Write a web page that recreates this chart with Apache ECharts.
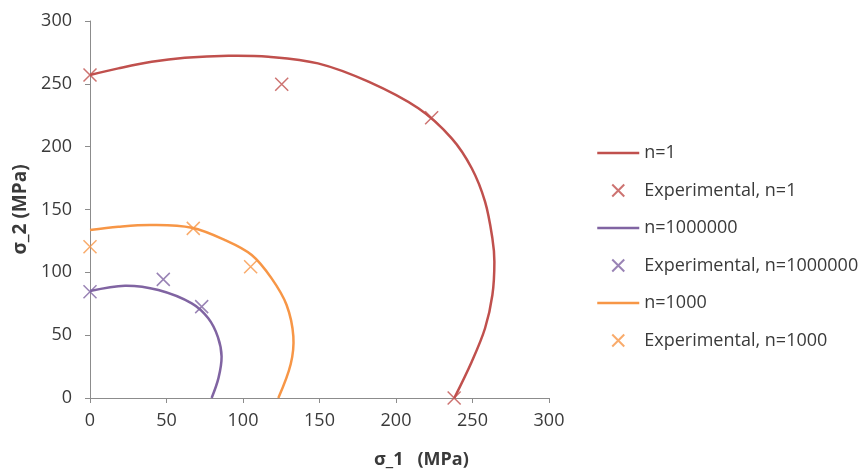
<!DOCTYPE html>
<html>
<head>
<meta charset="utf-8">
<script src="https://cdn.jsdelivr.net/npm/echarts@6/dist/echarts.min.js"></script>
<style>html,body{margin:0;padding:0;background:#fff;}#c{width:860px;height:476px;}</style>
</head>
<body>
<div id="c"></div>
<script>
// Values
var xTicks = [0, 50, 100, 150, 200, 250, 300];
var yTicks = [0, 50, 100, 150, 200, 250, 300];

var curveN1 = [[0,257],[18.5,262.3],[40.3,267.6],[62,270.8],[90.4,272.4],[116.6,271.6],[149,266.3],[182,251.7],[214.6,230.5],[236.4,206.6],[249.5,182.8],[258.2,156.2],[263,127],[264.3,108.5],[263,82],[258.2,55.5],[249.5,28.9],[238.1,0]];
var expN1 = [[0,257],[125.3,249.6],[223.3,223],[238,0]];

var curveN1e6 = [[0,85.1],[22.9,89.4],[44.7,85.9],[66.5,75.3],[77.3,63.4],[83.6,48.5],[86,33],[84,16],[79.5,0]];
var expN1e6 = [[0,84.6],[47.9,94.4],[73,72.7]];

var curveN1e3 = [[0,133.7],[18.5,136.3],[40.3,137.7],[66.5,135.5],[88.2,125.7],[105.7,113.8],[118.7,95.2],[128.5,74],[132.9,49],[131.2,27],[123.1,0]];
var expN1e3 = [[0,120.4],[67.5,135],[105,104.5]];

var seriesNames = ['n=1','Experimental, n=1','n=1000000','Experimental, n=1000000','n=1000','Experimental, n=1000'];
var colors = ['#C0504D','#C0504D','#8064A2','#8064A2','#F79646','#F79646'];

var FONT = 'Open Sans';
var xShape = 'path://M0,0L10,10M10,0L0,10';

function curve(i, data) {
  return {
    name: seriesNames[i], type: 'custom', data: data, clip: false, z: 2,
    itemStyle: {color: colors[i]},
    renderItem: function (params, api) {
      if (params.dataIndex !== 0) return null;
      var pts = data.map(function (p) { return api.coord(p); });
      return {
        type: 'polyline',
        shape: {points: pts, smooth: 0.35},
        style: {stroke: colors[i], lineWidth: 2.5, fill: null}
      };
    }
  };
}
function exp(i, data) {
  return {
    name: seriesNames[i], type: 'scatter', data: data,
    symbol: xShape, symbolSize: 13, symbolKeepAspect: true, clip: false,
    itemStyle: {color: 'rgba(0,0,0,0)', borderColor: colors[i], borderWidth: 1.5}, z: 3
  };
}

var legendData = seriesNames.map(function (n, i) {
  if (i % 2 === 0) {
    return {name: n, icon: 'line', itemStyle: {color: colors[i], borderColor: colors[i], borderWidth: 2.5}};
  }
  return {name: n};
});

var chart = echarts.init(document.getElementById('c'));
chart.setOption({
  animation: false,
  backgroundColor: '#fff',
  textStyle: {fontFamily: FONT},
  title: {
    text: 'σ_1   (MPa)', left: 374, top: 451, padding: 0,
    textStyle: {fontFamily: FONT, fontSize: 18, fontWeight: 'bold', color: '#3a3a3a'}
  },
  grid: {left: 90, top: 21, right: 311, bottom: 78, containLabel: false},
  xAxis: {
    type: 'value', min: xTicks[0], max: xTicks[xTicks.length-1], interval: 50,
    axisLine: {show: true, lineStyle: {color: '#8c8c8c', width: 1}},
    axisTick: {show: true, length: 5, lineStyle: {color: '#8c8c8c'}},
    axisLabel: {fontSize: 18, color: '#3a3a3a', margin: 14, fontFamily: FONT},
    splitLine: {show: false}
  },
  yAxis: {
    type: 'value', min: yTicks[0], max: yTicks[yTicks.length-1], interval: 50,
    name: 'σ_2 (MPa)', nameLocation: 'middle', nameGap: 50, nameRotate: 90,
    nameTextStyle: {fontSize: 19, fontWeight: 'bold', color: '#3a3a3a', fontFamily: FONT},
    axisLine: {show: true, lineStyle: {color: '#8c8c8c', width: 1}},
    axisTick: {show: true, length: 5, lineStyle: {color: '#8c8c8c'}},
    axisLabel: {fontSize: 18, color: '#3a3a3a', margin: 18, fontFamily: FONT},
    splitLine: {show: false}
  },
  legend: {
    orient: 'vertical', left: 596, top: 144, padding: 0,
    itemWidth: 42, itemHeight: 12, itemGap: 19.5,
    textStyle: {fontSize: 18, lineHeight: 16, color: '#3a3a3a', fontFamily: FONT},
    data: legendData
  },
  series: [
    curve(0, curveN1), exp(1, expN1),
    curve(2, curveN1e6), exp(3, expN1e6),
    curve(4, curveN1e3), exp(5, expN1e3)
  ]
});
</script>
</body>
</html>
